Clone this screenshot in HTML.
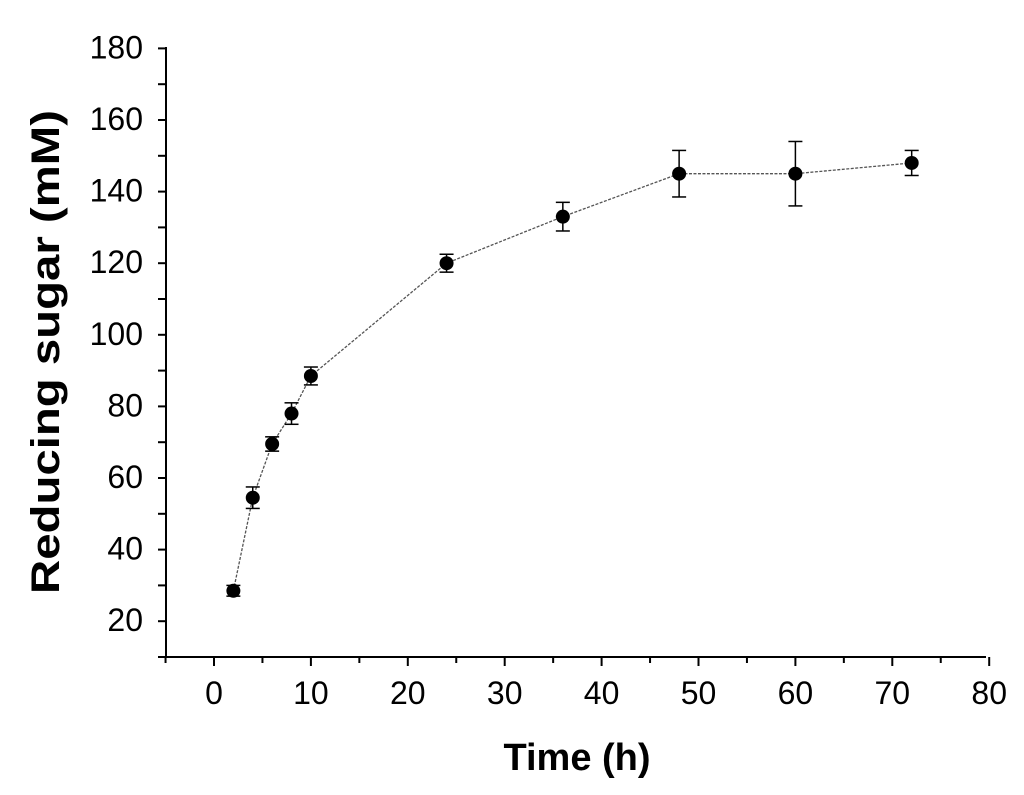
<!DOCTYPE html>
<html><head><meta charset="utf-8"><style>body{margin:0;background:#fff}svg{display:block}</style></head>
<body>
<svg id="chart" width="1024" height="795" xmlns="http://www.w3.org/2000/svg" font-family="Liberation Sans, Arial, sans-serif"></svg>
<script>
const times=[2,4,6,8,10,24,36,48,60,72];
const sugar=[28.5,54.5,69.5,78,88.5,120,133,145,145,148];
const errs=[1.5,3,2,3,2.5,2.5,4,6.5,9,3.5];
const xTicks=[0,10,20,30,40,50,60,70,80];
const yTicks=[20,40,60,80,100,120,140,160,180];
const NS='http://www.w3.org/2000/svg';
const svg=document.getElementById('chart');
const X=v=>214+(v-0)*9.69;
const Y=v=>657-(v-10)*3.58;
function el(t,a,p){const e=document.createElementNS(NS,t);for(const k in a)e.setAttribute(k,a[k]);(p||svg).appendChild(e);return e;}
const ax=el('g',{stroke:'#000','stroke-width':2});


el('line',{x1:166,y1:47,x2:166,y2:658},ax);
el('line',{x1:165,y1:657,x2:986,y2:657},ax);
for(let v=10;v<=180;v+=10){el('line',{x1:158,y1:Y(v),x2:166,y2:Y(v)},ax);}
for(let v=-5;v<=80;v+=5){const maj=v%10===0;el('line',{x1:X(v),y1:657,x2:X(v),y2:657+(maj?9:6)},ax);}
yTicks.forEach(v=>{const t=el('text',{x:143,y:Y(v)+10,'text-anchor':'end','font-size':32});t.textContent=v;

});
xTicks.forEach(v=>{const t=el('text',{x:X(v),y:704,'text-anchor':'middle','font-size':32});t.textContent=v;

});
const xt=el('text',{x:577,y:770,'text-anchor':'middle','font-size':38,'font-weight':'bold'});xt.textContent='Time (h)';


const yt=el('text',{x:0,y:0,'text-anchor':'middle','font-size':40,'font-weight':'bold',textLength:484,lengthAdjust:'spacingAndGlyphs',transform:'translate(59,352) rotate(-90)'});yt.textContent='Reducing sugar (mM)';


const line=el('polyline',{points:times.map((t,i)=>X(t)+','+Y(sugar[i])).join(' '),fill:'none',stroke:'#555','stroke-width':1.3,'stroke-dasharray':'3,1.5'});


times.forEach((t,i)=>{const x=X(t),y1=Y(sugar[i]+errs[i]),y2=Y(sugar[i]-errs[i]);
const g=el('g',{stroke:'#000','stroke-width':1.5});


el('line',{x1:x,y1:y1,x2:x,y2:y2},g);el('line',{x1:x-7,y1:y1,x2:x+7,y2:y1},g);el('line',{x1:x-7,y1:y2,x2:x+7,y2:y2},g);
const c=el('circle',{cx:x,cy:Y(sugar[i]),r:7,fill:'#000'});

});
</script>
</body></html>
